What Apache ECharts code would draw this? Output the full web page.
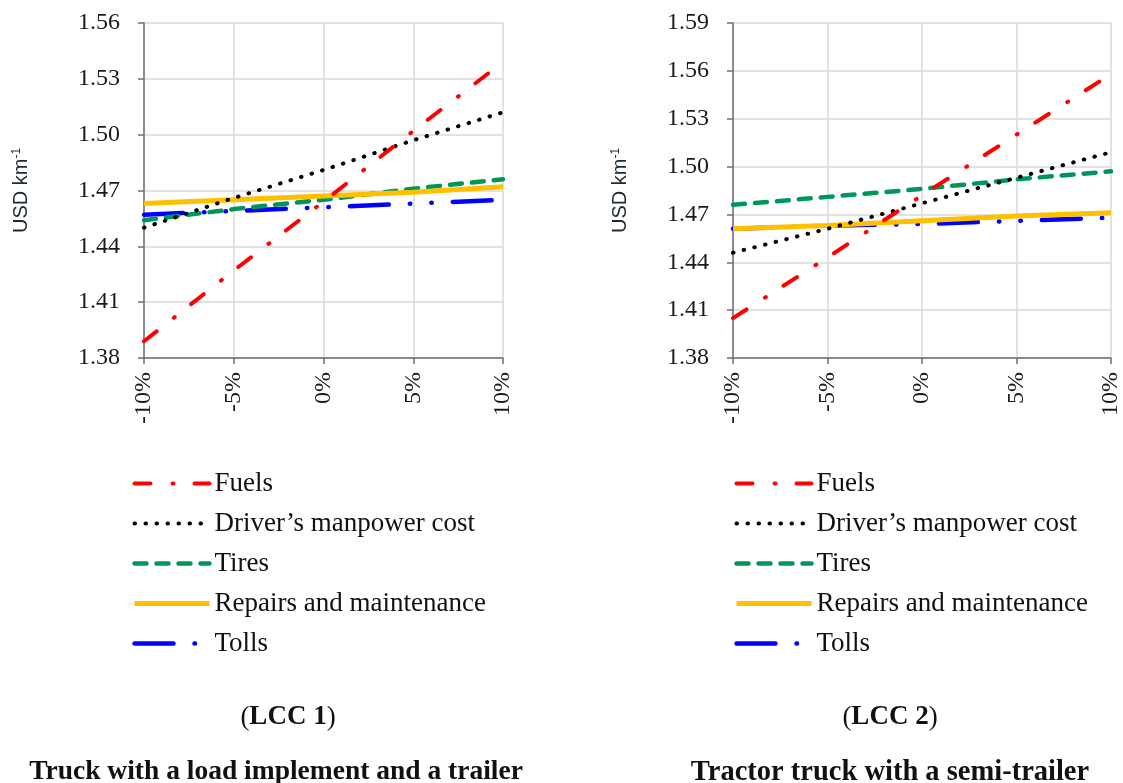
<!DOCTYPE html>
<html><head><meta charset="utf-8">
<script src="https://cdn.jsdelivr.net/npm/echarts@6/dist/echarts.min.js"></script>
<style>html,body{margin:0;padding:0;background:#fff}#c{width:1123px;height:783px}</style>
</head><body><div id="c"></div>
<script>
const categories = ['-10%', '-5%', '0%', '5%', '10%'];
const seriesNames = ['Fuels', 'Driver\u2019s manpower cost', 'Tires', 'Repairs and maintenance', 'Tolls'];
const yTicks1 = [1.38, 1.41, 1.44, 1.47, 1.50, 1.53, 1.56];
const yTicks2 = [1.38, 1.41, 1.44, 1.47, 1.50, 1.53, 1.56, 1.59];

// LCC 1 – Truck with a load implement and a trailer
const lcc1Fuels   = [1.389, 1.427, 1.464, 1.502, 1.539];
const lcc1Driver  = [1.450, 1.466, 1.481, 1.497, 1.512];
const lcc1Tires   = [1.454, 1.460, 1.465, 1.471, 1.476];
const lcc1Repairs = [1.463, 1.465, 1.467, 1.469, 1.472];
const lcc1Tolls   = [1.457, 1.459, 1.461, 1.463, 1.465];

// LCC 2 – Tractor truck with a semi-trailer
const lcc2Fuels   = [1.405, 1.443, 1.482, 1.520, 1.558];
const lcc2Driver  = [1.446, 1.461, 1.477, 1.493, 1.509];
const lcc2Tires   = [1.476, 1.481, 1.486, 1.492, 1.497];
const lcc2Repairs = [1.461, 1.463, 1.466, 1.469, 1.471];
const lcc2Tolls   = [1.461, 1.463, 1.464, 1.466, 1.468];

const titleTop1 = '({b|LCC 1})';
const titleTop2 = '({b|LCC 2})';
const titleBottom1 = 'Truck with a load implement and a trailer';
const titleBottom2 = 'Tractor truck with a semi-trailer';

const styles = [
  {color: '#FF0000', width: 4, type: [16, 22, 1, 21], cap: 'round'},
  {color: '#000000', width: 4, type: [0.5, 10.5], cap: 'round'},
  {color: '#00965A', width: 4.5, type: [12, 10], cap: 'round'},
  {color: '#FFC000', width: 5, type: 'solid', cap: 'butt'},
  {color: '#0000FF', width: 4.5, type: [39, 21, 0.5, 21, 0.5, 21], cap: 'round'}
];
const data1 = [lcc1Fuels, lcc1Driver, lcc1Tires, lcc1Repairs, lcc1Tolls];
const data2 = [lcc2Fuels, lcc2Driver, lcc2Tires, lcc2Repairs, lcc2Tolls];
const drawOrder = [4, 2, 3, 1, 0];

const serif = 'Liberation Serif';
const axisColor = '#6f6f6f';
const gridColor = '#d9d9d9';

function xAxisCfg(gi) {
  return {
    type: 'category', gridIndex: gi, data: categories, boundaryGap: false,
    axisLine: {show: true, lineStyle: {color: axisColor, width: 1.5}},
    axisTick: {show: true, length: 6, inside: false, alignWithLabel: true, lineStyle: {color: axisColor, width: 1.5}},
    axisLabel: {rotate: 90, margin: 14, fontFamily: serif, fontSize: 24, color: '#1a1a1a', interval: 0},
    splitLine: {show: true, lineStyle: {color: gridColor, width: 1.5}}
  };
}
function yAxisCfg(gi, ticks, gap) {
  return {
    type: 'value', gridIndex: gi, min: ticks[0], max: ticks[ticks.length - 1], interval: 0.03,
    name: '{a|USD km}{s|-1}', nameLocation: 'middle', nameGap: gap, nameRotate: 90,
    nameTextStyle: {rich: {
      a: {fontFamily: 'Liberation Sans', fontSize: 20, color: '#1b2a33'},
      s: {fontFamily: 'Liberation Sans', fontSize: 12, color: '#1b2a33', verticalAlign: 'top', padding: [0, 0, 9, 0]}
    }},
    axisLine: {show: true, lineStyle: {color: axisColor, width: 1.5}},
    axisTick: {show: true, length: 6, lineStyle: {color: axisColor, width: 1.5}},
    axisLabel: {margin: 24, fontFamily: serif, fontSize: 24, color: '#1a1a1a', formatter: v => v.toFixed(2)},
    splitLine: {show: true, lineStyle: {color: gridColor, width: 1.5}}
  };
}
const series = [];
[data1, data2].forEach((dset, gi) => {
  drawOrder.forEach((k, z) => {
    series.push({
      type: 'line', name: seriesNames[k], xAxisIndex: gi, yAxisIndex: gi,
      data: dset[k], symbol: 'none', z: 2 + z,
      lineStyle: {color: styles[k].color, width: styles[k].width, type: styles[k].type, cap: styles[k].cap},
      itemStyle: {color: styles[k].color}
    });
  });
});
function legendCfg(left) {
  return {
    data: seriesNames.map((n, k) => ({
      name: n,
      itemStyle: {color: 'rgba(0,0,0,0)', borderWidth: 0, opacity: 0},
      lineStyle: {color: styles[k].color, width: styles[k].width, type: styles[k].type, cap: styles[k].cap}
    })),
    orient: 'vertical', left: left, top: 470, padding: 0,
    itemWidth: 75, itemHeight: 14, itemGap: 13,
    textStyle: {fontFamily: serif, fontSize: 27, color: '#111', lineHeight: 27},
    selectedMode: false
  };
}
const topRich = {b: {fontWeight: 'bold', fontFamily: serif, fontSize: 27, color: '#111'}};
const option = {
  animation: false,
  backgroundColor: '#ffffff',
  grid: [
    {left: 144, top: 23, width: 359, height: 335},
    {left: 733, top: 23, width: 378, height: 335}
  ],
  xAxis: [xAxisCfg(0), xAxisCfg(1)],
  yAxis: [yAxisCfg(0, yTicks1, 112), yAxisCfg(1, yTicks2, 102)],
  legend: [legendCfg(132), legendCfg(734)],
  title: [
    {text: titleTop1, left: 288, top: 704, textAlign: 'center', padding: 0,
     textStyle: {fontFamily: serif, fontSize: 27, fontWeight: 'normal', color: '#111', rich: topRich}},
    {text: titleTop2, left: 890, top: 704, textAlign: 'center', padding: 0,
     textStyle: {fontFamily: serif, fontSize: 27, fontWeight: 'normal', color: '#111', rich: topRich}},
    {text: titleBottom1, left: 276, top: 758, textAlign: 'center', padding: 0,
     textStyle: {fontFamily: serif, fontSize: 27.5, fontWeight: 'bold', color: '#111'}},
    {text: titleBottom2, left: 890, top: 758, textAlign: 'center', padding: 0,
     textStyle: {fontFamily: serif, fontSize: 28.5, fontWeight: 'bold', color: '#111'}}
  ],
  series: series
};
const chart = echarts.init(document.getElementById('c'), null, {renderer: 'canvas'});
chart.setOption(option);
</script>
</body></html>
